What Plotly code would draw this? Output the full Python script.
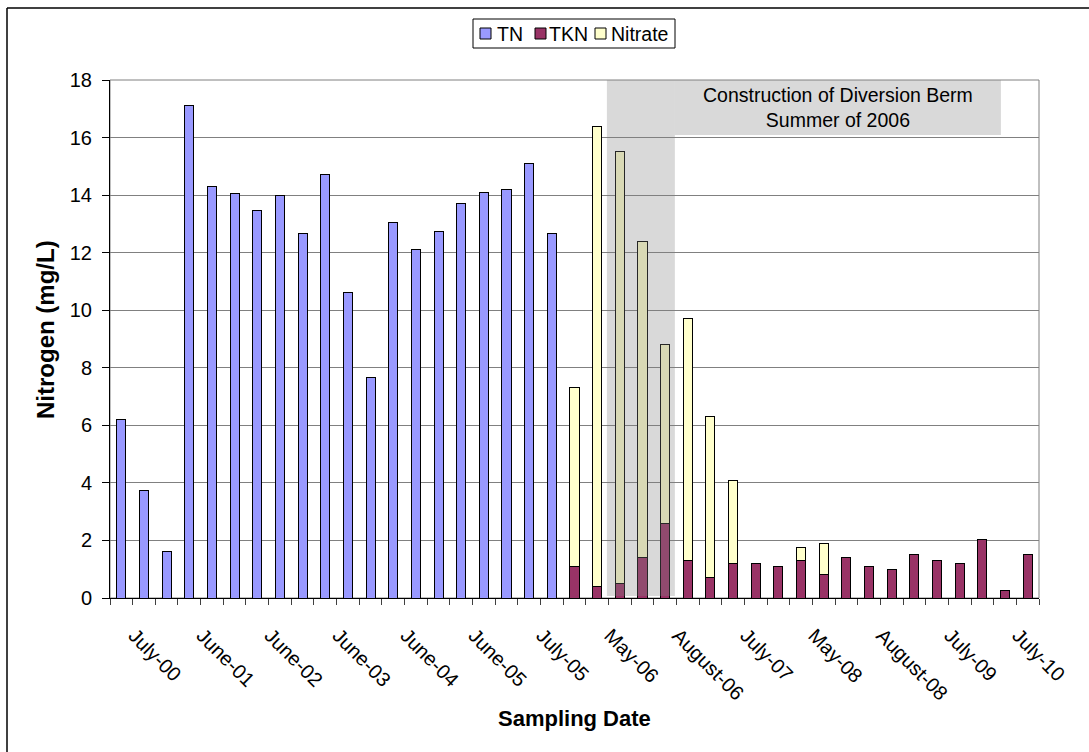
import plotly.graph_objects as go

# Sampling events in chronological order (41 events, every third one labelled)
n_samples = 41
sample_no = list(range(n_samples))

label_positions = [0, 3, 6, 9, 12, 15, 18, 21, 24, 27, 30, 33, 36, 39]
label_text = ["July-00", "June-01", "June-02", "June-03", "June-04", "June-05",
              "July-05", "May-06", "August-06", "July-07", "May-08", "August-08",
              "July-09", "July-10"]

# Total nitrogen (mg/L), measured directly through 2005
tn = [6.2, 3.75, 1.6, 17.1, 14.3, 14.05, 13.45, 14.0, 12.65, 14.7,
      10.6, 7.65, 13.05, 12.1, 12.75, 13.7, 14.1, 14.2, 15.1, 12.65]

# From late 2005 on, nitrogen reported as TKN + nitrate (mg/L)
tkn = [1.1, 0.4, 0.5, 1.4, 2.6, 1.3, 0.7, 1.2, 1.2, 1.1, 1.3,
       0.8, 1.4, 1.1, 1.0, 1.5, 1.3, 1.2, 2.05, 0.25, 1.5]
nitrate = [6.2, 16.0, 15.0, 11.0, 6.2, 8.4, 5.6, 2.9, 0.0, 0.0, 0.45,
           1.1, 0.0, 0.0, 0.0, 0.0, 0.0, 0.0, 0.0, 0.0, 0.0]

series_names = ["TN", "TKN", "Nitrate"]
series_colors = ["#9999FF", "#993366", "#FFFFCC"]

n_tn = len(tn)
tn_full = tn + [None] * (n_samples - n_tn)
tkn_full = [None] * n_tn + tkn
nitrate_full = [None] * n_tn + nitrate

# Construction window: samples 22-24 (summer 2006)
berm_first, berm_last = 22, 24

FONT = "Liberation Sans, Arial, sans-serif"
W, H = 1089, 752
M_L, M_R, M_T, M_B = 110, 50, 80, 154
PLOT_W, PLOT_H = W - M_L - M_R, H - M_T - M_B


def px_x(px):
    """Pixel column -> paper x."""
    return (px - M_L) / PLOT_W


def px_y(py):
    """Pixel row -> paper y."""
    return (H - M_B - py) / PLOT_H


bar_line = dict(color="black", width=1)

fig = go.Figure()
for name, color, vals in zip(series_names, series_colors,
                             [tn_full, tkn_full, nitrate_full]):
    fig.add_trace(go.Bar(x=sample_no, y=vals, name=name, width=0.4,
                         marker=dict(color=color, line=bar_line)))

shade = "rgba(128,128,128,0.3)"
shapes = [
    # plot-area frame
    dict(type="rect", xref="paper", yref="paper", x0=0, x1=1, y0=0, y1=1,
         line=dict(color="#808080", width=1), layer="below"),
    # construction period shading
    dict(type="rect", xref="x", yref="y", x0=berm_first - 0.57, x1=berm_last + 0.43,
         y0=0.07, y1=18.05, fillcolor=shade, line=dict(width=0), layer="above"),
    # caption box
    dict(type="rect", xref="x", yref="y", x0=berm_last + 0.43, x1=38.82,
         y0=16.09, y1=18.0, fillcolor=shade, line=dict(width=0), layer="above"),
    # outer chart border (top and left)
    dict(type="line", xref="paper", yref="paper", x0=px_x(7), x1=px_x(1100),
         y0=px_y(8), y1=px_y(8), line=dict(color="black", width=1.5)),
    dict(type="line", xref="paper", yref="paper", x0=px_x(7), x1=px_x(7),
         y0=px_y(770), y1=px_y(8), line=dict(color="black", width=1.5)),
    # legend frame
    dict(type="rect", xref="paper", yref="paper", x0=px_x(473), x1=px_x(675),
         y0=px_y(48), y1=px_y(19), fillcolor="white",
         line=dict(color="black", width=1)),
]

annotations = [
    dict(x=(berm_last + 0.43 + 38.82) / 2, y=17.05, xref="x", yref="y",
         text="Construction of Diversion Berm<br>Summer of 2006", showarrow=False,
         font=dict(family=FONT, size=19.5, color="black"), align="center"),
    dict(x=0.5, y=px_y(718), xref="paper", yref="paper", text="<b>Sampling Date</b>",
         showarrow=False, font=dict(family=FONT, size=22, color="black"),
         yanchor="middle"),
    dict(x=px_x(45), y=px_y(330), xref="paper", yref="paper", text="<b>Nitrogen (mg/L)</b>",
         showarrow=False, textangle=-90, font=dict(family=FONT, size=24, color="black"),
         xanchor="center", yanchor="middle"),
]

# legend entries: swatch + label
legend_swatch_px = [480, 535, 595]
legend_text_px = [497, 549, 611]
for name, color, sx, tx in zip(series_names, series_colors, legend_swatch_px, legend_text_px):
    shapes.append(dict(type="rect", xref="paper", yref="paper",
                       x0=px_x(sx), x1=px_x(sx + 11), y0=px_y(39), y1=px_y(28),
                       fillcolor=color, line=dict(color="black", width=1)))
    annotations.append(dict(x=px_x(tx), y=px_y(33.5), xref="paper", yref="paper",
                            text=name, showarrow=False, xanchor="left", yanchor="middle",
                            xshift=-2,
                            font=dict(family=FONT, size=19.5, color="black")))

fig.update_layout(
    width=W, height=H,
    margin=dict(l=M_L, r=M_R, t=M_T, b=M_B),
    paper_bgcolor="white", plot_bgcolor="white",
    barmode="stack",
    font=dict(family=FONT, size=20, color="black"),
    showlegend=False,
    shapes=shapes,
    annotations=annotations,
)

fig.update_xaxes(
    range=[-0.5, n_samples - 0.5],
    tickmode="array", tickvals=label_positions, ticktext=label_text,
    tickangle=45, ticks="", showgrid=False, zeroline=False,
    showline=True, linecolor="black", linewidth=1,
    ticklabelstandoff=17, ticklabelshift=13,
    tickfont=dict(family=FONT, size=20, color="black"),
    minor=dict(ticks="outside", ticklen=6, tick0=-0.5, dtick=1,
               tickcolor="#404040", showgrid=False),
)
fig.update_yaxes(
    range=[0, 18], dtick=2, tick0=0,
    ticks="outside", ticklen=7, tickcolor="black",
    showline=True, linecolor="black", linewidth=1,
    showgrid=True, gridcolor="#808080", gridwidth=1, zeroline=False,
    ticklabelstandoff=6,
    tickfont=dict(family=FONT, size=20, color="black"),
)

fig.write_html("out.html")
